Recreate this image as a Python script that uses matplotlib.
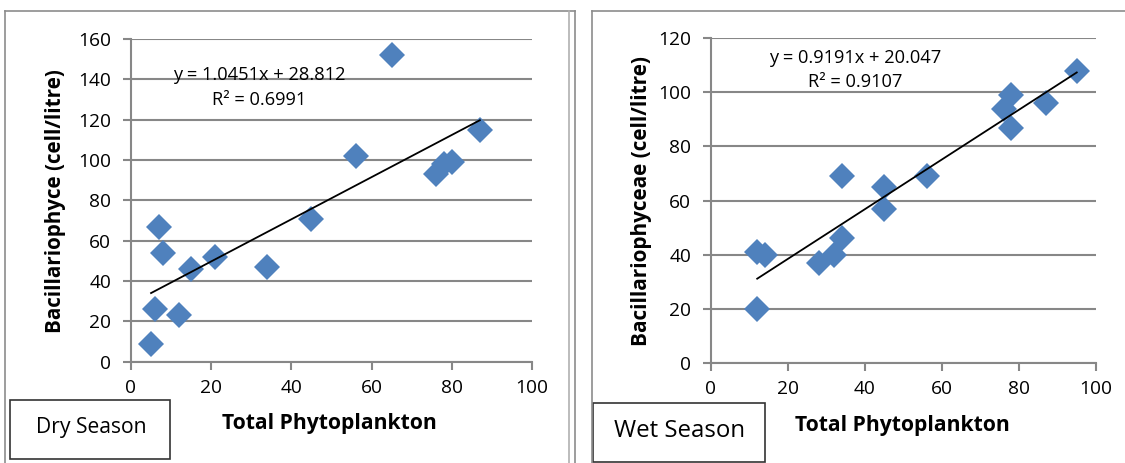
import matplotlib
matplotlib.use("Agg")
import matplotlib.pyplot as plt
import numpy as np
from matplotlib.patches import Rectangle
from matplotlib.lines import Line2D

plt.rcParams['font.family'] = ['Open Sans', 'DejaVu Sans']

# ---- data ----
dry_x = [5, 6, 7, 8, 12, 15, 21, 34, 45, 56, 65, 76, 78, 80, 87]
dry_y = [9, 26, 67, 54, 23, 46, 52, 47, 71, 102, 152, 93, 98, 99, 115]
wet_x = [12, 14, 12, 28, 32, 34, 34, 45, 45, 56, 76, 78, 78, 87, 95]
wet_y = [41, 40, 20, 37, 40, 46, 69, 65, 57, 69, 94, 99, 87, 96, 108]
dry_fit = (1.0451, 28.812)
wet_fit = (0.9191, 20.047)
dry_eq = ["y = 1.0451x + 28.812", "R² = 0.6991"]
wet_eq = ["y = 0.9191x + 20.047", "R² = 0.9107"]
xlabel = "Total Phytoplankton"
dry_ylabel = "Bacillariophyce (cell/litre)"
wet_ylabel = "Bacillariophyceae (cell/litre)"
dry_title = "Dry Season"
wet_title = "Wet Season"
x_ticks = [0, 20, 40, 60, 80, 100]
dry_yticks = [0, 20, 40, 60, 80, 100, 120, 140, 160]
wet_yticks = [0, 20, 40, 60, 80, 100, 120]

W, H = 1125, 463
fig = plt.figure(figsize=(W / 100, H / 100), dpi=100)
fig.patch.set_facecolor('white')
renderer = fig.canvas.get_renderer()


def fit_size(text, target_px, weight='normal', rotation=0):
    """font size (pt) that gives the text the wanted length in pixels"""
    t = fig.text(0, 0, text, fontsize=10, fontweight=weight, rotation=rotation)
    bb = t.get_window_extent(renderer)
    length = bb.height if rotation else bb.width
    t.remove()
    return 10 * target_px / length


def fx(px):
    return px / W


def fy(py):
    return 1 - py / H


GRID = '#878787'
BLUE = '#4F81BD'

tick_fs = fit_size("160", 33)
eq_fs = fit_size(dry_eq[0], 173)
xlab_fs = fit_size(xlabel, 216, 'bold')
dry_ylab_fs = fit_size(dry_ylabel, 265, 'bold', 90)
wet_ylab_fs = fit_size(wet_ylabel, 292, 'bold', 90)
dry_box_fs = fit_size(dry_title, 111)
wet_box_fs = fit_size(wet_title, 131)

# outer frames
for xs_, ys_, c in [([5, 5], [11, 470], '#8c8c8c'), ([5, 575], [11, 11], '#8c8c8c'),
                    ([575, 575], [11, 470], '#8c8c8c'), ([569, 569], [11, 470], '#b0b0b0'),
                    ([592, 592], [11, 470], '#8c8c8c'), ([592, 1125], [11, 11], '#8c8c8c')]:
    fig.add_artist(Line2D([fx(v) for v in xs_], [fy(v) for v in ys_], color=c, lw=1.2))


def make_panel(rect_px, xs, ys, fit, eq, eq_pos, ylabel, ylab_fs, yticks, ylab_px, xlab_px):
    x0, x1, ytop, ybot = rect_px
    ax = fig.add_axes([fx(x0), fy(ybot), (x1 - x0) / W, (ybot - ytop) / H])
    ax.set_xlim(0, 100)
    ax.set_ylim(yticks[0], yticks[-1])
    ax.set_xticks(x_ticks)
    ax.set_yticks(yticks)
    for s in ['top', 'right']:
        ax.spines[s].set_visible(False)
    for s in ['left', 'bottom']:
        ax.spines[s].set_color(GRID)
        ax.spines[s].set_linewidth(1.5)
    ax.grid(axis='y', color=GRID, lw=1.5)
    ax.set_axisbelow(True)
    ax.tick_params(axis='both', colors=GRID, width=1.5, length=5.8, labelsize=tick_fs,
                   labelcolor='black')
    ax.tick_params(axis='y', pad=8.5)
    ax.tick_params(axis='x', pad=7)
    ax.plot(xs, ys, linestyle='none', marker='D', markersize=13, color=BLUE,
            markeredgewidth=0, zorder=3, clip_on=False)
    a, b = fit
    xf = np.array([min(xs), max(xs)])
    ax.plot(xf, a * xf + b, color='black', lw=1.3, zorder=4)
    ex, ey1, ey2 = eq_pos
    fig.text(fx(ex), fy(ey1), eq[0], ha='center', va='center', fontsize=eq_fs)
    fig.text(fx(ex), fy(ey2), eq[1], ha='center', va='center', fontsize=eq_fs)
    fig.text(fx(ylab_px[0]), fy(ylab_px[1]), ylabel, rotation=90, ha='center',
             va='center', fontsize=ylab_fs, fontweight='bold')
    fig.text(fx(xlab_px[0]), fy(xlab_px[1]), xlabel, ha='center', va='center',
             fontsize=xlab_fs, fontweight='bold')
    return ax


make_panel((131, 532, 39, 361.7), dry_x, dry_y, dry_fit, dry_eq, (259, 75, 100),
           dry_ylabel, dry_ylab_fs, dry_yticks, (56, 201), (329, 423))
make_panel((711, 1096, 38.3, 362.7), wet_x, wet_y, wet_fit, wet_eq, (855, 58, 82),
           wet_ylabel, wet_ylab_fs, wet_yticks, (641, 201), (902, 425))

# season boxes
fig.add_artist(Rectangle((fx(10), fy(459)), (170 - 10) / W, (459 - 400) / H,
                         transform=fig.transFigure, fill=False, edgecolor='#333333', lw=1.2))
fig.text(fx(91), fy(428), dry_title, ha='center', va='center', fontsize=dry_box_fs)
fig.add_artist(Rectangle((fx(593), fy(462)), (765 - 593) / W, (462 - 403) / H,
                         transform=fig.transFigure, fill=False, edgecolor='#333333', lw=1.2))
fig.text(fx(680), fy(431), wet_title, ha='center', va='center', fontsize=wet_box_fs)

fig.savefig('out.png', dpi=100)
